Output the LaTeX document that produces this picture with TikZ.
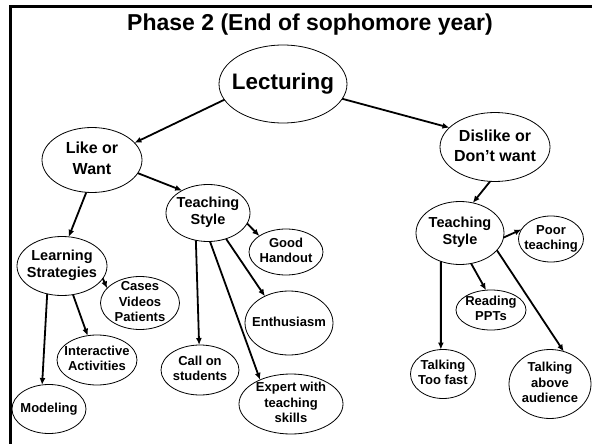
\documentclass[tikz,border=0pt]{standalone}
\usepackage{fontspec}
\setmainfont{Liberation Sans}
\usetikzlibrary{shapes.geometric,arrows.meta}
\newcommand\ctr[1]{\makebox[0pt]{\raisebox{\dimexpr\depth/2-\height/2\relax}[0pt][0pt]{\begin{tabular}{@{}c@{}}#1\end{tabular}}}}
\tikzset{
  el/.style 2 args={ellipse, draw, line width=0.8pt, inner sep=0pt, outer sep=0pt, minimum width=#1, minimum height=#2},
  fbig/.style={font=\fontsize{22.4}{26}\selectfont\bfseries},
  fmid/.style={font=\fontsize{16}{20}\selectfont\bfseries},
  fts/.style={font=\fontsize{14.5}{17}\selectfont\bfseries},
  fsm/.style={font=\fontsize{13}{15.5}\selectfont\bfseries},
  conn/.style={line width=1.8pt, -{Latex[length=7pt,width=6pt]}},
  frame/.style={line width=3pt}
}
\begin{document}
\begin{tikzpicture}[x=1pt,y=-1pt]
\useasboundingbox (0,0) rectangle (592,444);
\coordinate (fbl) at (10.5,444);
\coordinate (ftl) at (10.5,6.5);
\coordinate (ftr) at (592,6.5);
\draw[frame] (fbl) -- (ftl) -- (ftr);
\node[anchor=base, font=\fontsize{23}{27}\selectfont\bfseries] (title) at (310,31) {Phase 2 (End of sophomore year)};
\node[el={128pt}{78pt}, fbig] (lec) at (283,84) {\ctr{Lecturing}};
\node[el={100pt}{65pt}, fmid] (like) at (92,160) {\ctr{Like or\\Want}};
\node[el={110pt}{69pt}, fmid] (dis) at (495,147) {\ctr{Dislike or\\Don’t want}};
\node[el={84pt}{57pt}, fts] (tsl) at (208,213) {\ctr{Teaching\\Style}};
\node[el={74pt}{46pt}, fsm] (good) at (286,252) {\ctr{Good\\Handout}};
\node[el={90pt}{59pt}, fts] (ls) at (62,266) {\ctr{Learning\\Strategies}};
\node[el={79pt}{53pt}, fsm] (cases) at (140,303) {\ctr{Cases\\Videos\\Patients}};
\node[el={80pt}{50pt}, fsm] (inter) at (97,360) {\ctr{Interactive\\Activities}};
\node[el={74pt}{49pt}, fsm] (model) at (49,409) {\ctr{Modeling}};
\node[el={78pt}{50pt}, fsm] (call) at (200,370) {\ctr{Call on\\students}};
\node[el={88pt}{64pt}, fsm] (enth) at (289,323) {\ctr{Enthusiasm}};
\node[el={104pt}{60pt}, fsm] (expert) at (291,404) {\ctr{Expert with\\teaching\\skills}};
\node[el={88pt}{63pt}, fts] (tsr) at (460,233) {\ctr{Teaching\\Style}};
\node[el={65pt}{46pt}, fsm] (poor) at (551,239) {\ctr{Poor\\teaching}};
\node[el={70pt}{40pt}, fsm] (read) at (491,310) {\ctr{Reading\\PPTs}};
\node[el={65pt}{49pt}, fsm] (fast) at (443,374) {\ctr{Talking\\Too fast}};
\node[el={82pt}{69pt}, fsm] (above) at (550,384) {\ctr{Talking\\above\\audience}};
\draw[conn] (lec.195) -- (like.22);
\draw[conn] (lec.-14) -- (dis.157);
\draw[conn] (like.-16) -- (tsl.139);
\draw[conn] (like.260) -- (ls.77);
\draw[conn] (dis.262) -- (tsr.67);
\draw[conn] (tsl.-15) -- (good.149);
\draw[conn] (tsl.246) -- (call.92);
\draw[conn] (tsl.274) -- (expert.142);
\draw[conn] (tsl.305) -- (enth.132);
\draw[conn] (ls.-17) -- (cases.156);
\draw[conn] (ls.291) -- (inter.111);
\draw[conn] (ls.242) -- (model.106);
\draw[conn] (tsr.-6) -- (poor.162);
\draw[conn] (tsr.290) -- (read.104);
\draw[conn] (tsr.236) -- (fast.95);
\draw[conn] (tsr.335) -- (above.67);
\end{tikzpicture}
\end{document}
